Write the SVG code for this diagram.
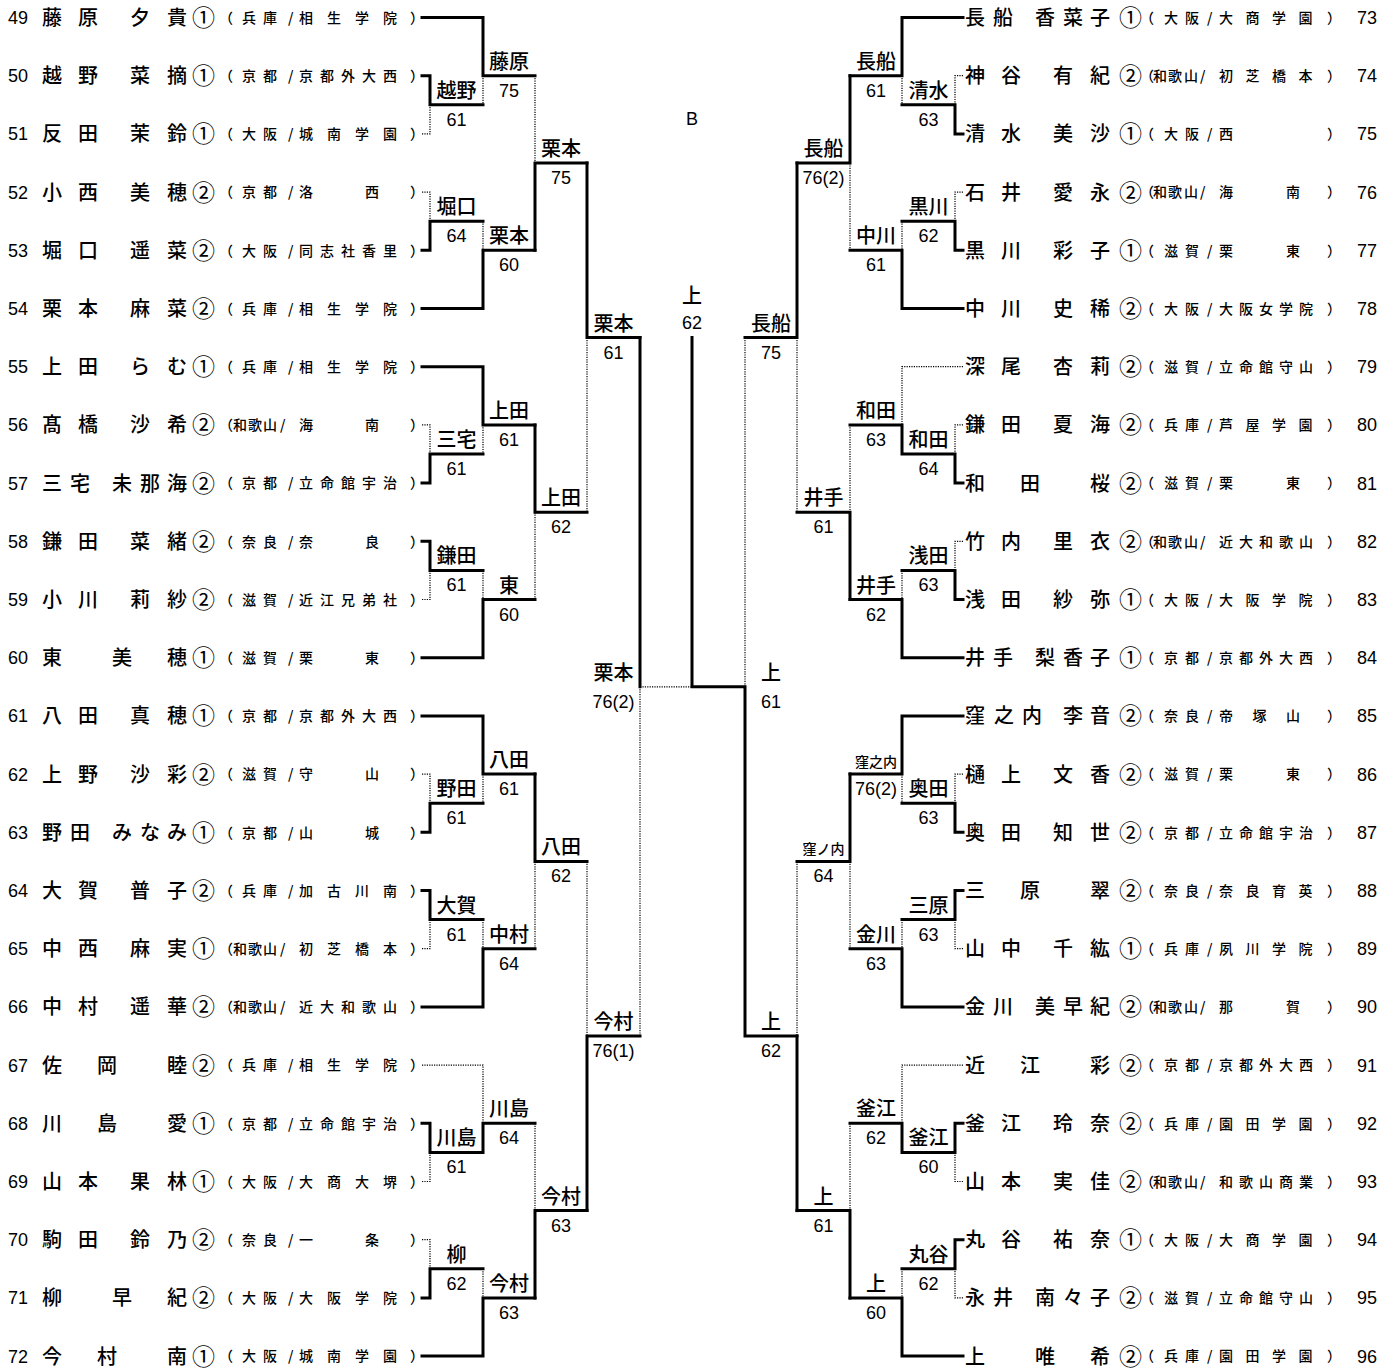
<svg xmlns="http://www.w3.org/2000/svg" width="1396" height="1370" viewBox="0 0 1396 1370">
<style>
.bg{fill:#fff}
.s{fill:none;stroke:#000;stroke-width:3;stroke-linecap:square;stroke-linejoin:miter}
.d{fill:none;stroke:#000;stroke-width:1.2;stroke-dasharray:1.2 1.2}
.no{font-family:"Liberation Sans",Arial,sans-serif;font-size:18px;fill:#000}
.nr{font-family:"Liberation Sans",Arial,sans-serif;font-size:18px;fill:#000;text-anchor:end}
.nm{font-family:"Noto Sans CJK JP","Noto Sans CJK SC",sans-serif;font-size:20px;font-weight:500;fill:#000}
.ci{font-family:"Noto Sans CJK JP","Noto Sans CJK SC",sans-serif;font-size:23px;fill:#000}
.af{font-family:"Noto Sans CJK JP","Noto Sans CJK SC",sans-serif;font-size:14px;font-weight:500;fill:#000}
.lb{font-family:"Noto Sans CJK JP","Noto Sans CJK SC",sans-serif;font-size:20px;font-weight:500;text-anchor:middle;fill:#000}
.ls{font-family:"Noto Sans CJK JP","Noto Sans CJK SC",sans-serif;font-size:14px;font-weight:500;text-anchor:middle;fill:#000}
.sc{font-family:"Liberation Sans",Arial,sans-serif;font-size:18px;text-anchor:middle;fill:#000}
</style>
<rect class="bg" x="0" y="0" width="1396" height="1370"/>

<g id="connectors">
<!-- left group 49-54 -->
<path class="s" d="M422,17.5H483V75.7H535"/>
<path class="s" d="M422,75.7H430V104.8H483"/>
<path class="s" d="M422,250.3H430V221.2H483"/>
<path class="s" d="M422,308.5H483V250.3H535"/>
<path class="s" d="M587,163H535V250.3"/>
<path class="d" d="M483,75.7V104.8"/>
<path class="d" d="M422,133.9H430V104.8"/>
<path class="d" d="M422,192.1H430V221.2"/>
<path class="d" d="M483,221.2V250.3"/>
<path class="d" d="M535,75.7V163"/>
<!-- left group 55-60 -->
<path class="s" d="M422,366.7H483V424.9H535"/>
<path class="s" d="M422,483.1H430V454H483"/>
<path class="s" d="M422,541.3H430V570.4H483"/>
<path class="s" d="M422,657.7H483V599.5H535"/>
<path class="s" d="M587,512.2H535V424.9"/>
<path class="d" d="M483,424.9V454"/>
<path class="d" d="M422,424.9H430V454"/>
<path class="d" d="M422,599.5H430V570.4"/>
<path class="d" d="M483,570.4V599.5"/>
<path class="d" d="M535,512.2V599.5"/>
<!-- left quarter top -->
<path class="s" d="M587,163V337.6H640"/>
<path class="d" d="M587,337.6V512.2"/>
<!-- left group 61-66 -->
<path class="s" d="M422,715.9H483V774.1H535"/>
<path class="s" d="M422,832.3H430V803.2H483"/>
<path class="s" d="M422,890.5H430V919.6H483"/>
<path class="s" d="M422,1006.9H483V948.7H535"/>
<path class="s" d="M587,861.4H535V774.1"/>
<path class="d" d="M483,774.1V803.2"/>
<path class="d" d="M422,774.1H430V803.2"/>
<path class="d" d="M422,948.7H430V919.6"/>
<path class="d" d="M483,919.6V948.7"/>
<path class="d" d="M535,861.4V948.7"/>
<!-- left group 67-72 -->
<path class="s" d="M422,1123.3H430V1152.4H483V1123.3H535"/>
<path class="s" d="M422,1297.9H430V1268.8H483"/>
<path class="s" d="M422,1356.1H483V1297.9H535"/>
<path class="s" d="M587,1210.6H535V1297.9"/>
<path class="d" d="M422,1065.1H483V1123.3"/>
<path class="d" d="M422,1181.5H430V1152.4"/>
<path class="d" d="M422,1239.7H430V1268.8"/>
<path class="d" d="M483,1268.8V1297.9"/>
<path class="d" d="M535,1123.3V1210.6"/>
<!-- left quarter bottom -->
<path class="s" d="M587,1210.6V1036H640"/>
<path class="d" d="M587,861.4V1036"/>
<!-- semis, final -->
<path class="s" d="M640,337.6V686.8"/>
<path class="d" d="M640,686.8V1036"/>
<path class="d" d="M640,686.8H692"/>
<path class="s" d="M692,337.6V686.8H745V1036H797"/>
<path class="d" d="M745,337.6V686.8"/>
<!-- right quarters -->
<path class="s" d="M745,337.6H797V163"/>
<path class="d" d="M797,337.6V512.2"/>
<path class="s" d="M797,1036V1210.6"/>
<path class="d" d="M797,861.4V1036"/>
<!-- right group 73-78 -->
<path class="s" d="M963,17.5H902V75.7H850"/>
<path class="s" d="M963,133.9H955V104.8H902"/>
<path class="s" d="M963,250.3H955V221.2H902"/>
<path class="s" d="M963,308.5H902V250.3H850"/>
<path class="s" d="M797,163H850V75.7"/>
<path class="d" d="M902,75.7V104.8"/>
<path class="d" d="M963,75.7H955V104.8"/>
<path class="d" d="M963,192.1H955V221.2"/>
<path class="d" d="M902,221.2V250.3"/>
<path class="d" d="M850,163V250.3"/>
<!-- right group 79-84 -->
<path class="s" d="M963,483.1H955V454H902V424.9H850"/>
<path class="s" d="M963,599.5H955V570.4H902"/>
<path class="s" d="M963,657.7H902V599.5H850"/>
<path class="s" d="M797,512.2H850V599.5"/>
<path class="d" d="M963,366.7H902V424.9"/>
<path class="d" d="M963,424.9H955V454"/>
<path class="d" d="M963,541.3H955V570.4"/>
<path class="d" d="M902,570.4V599.5"/>
<path class="d" d="M850,424.9V512.2"/>
<!-- right group 85-90 -->
<path class="s" d="M963,715.9H902V774.1H850"/>
<path class="s" d="M963,832.3H955V803.2H902"/>
<path class="s" d="M963,890.5H955V919.6H902"/>
<path class="s" d="M963,1006.9H902V948.7H850"/>
<path class="s" d="M797,861.4H850V774.1"/>
<path class="d" d="M902,774.1V803.2"/>
<path class="d" d="M963,774.1H955V803.2"/>
<path class="d" d="M963,948.7H955V919.6"/>
<path class="d" d="M902,919.6V948.7"/>
<path class="d" d="M850,861.4V948.7"/>
<!-- right group 91-96 -->
<path class="s" d="M963,1123.3H955V1152.4H902V1123.3H850"/>
<path class="s" d="M963,1239.7H955V1268.8H902"/>
<path class="s" d="M963,1356.1H902V1297.9H850"/>
<path class="s" d="M797,1210.6H850V1297.9"/>
<path class="d" d="M963,1065.1H902V1123.3"/>
<path class="d" d="M963,1181.5H955V1152.4"/>
<path class="d" d="M963,1297.9H955V1268.8"/>
<path class="d" d="M902,1268.8V1297.9"/>
<path class="d" d="M850,1123.3V1210.6"/>
</g>

<g id="title"><text class="sc" x="692" y="125">B</text></g>

<!-- left players -->
<g id="p49" transform="translate(0,17.5)"><text class="no" x="8" y="6.5">49</text><text class="nm" x="42 78 130 167" y="7.5">藤原夕貴</text><text class="ci" x="192" y="8.5">①</text><text class="af" x="219 242 263 288 299 327 355 383 410" y="5.3">（兵庫/相生学院）</text></g>
<g id="p50" transform="translate(0,75.7)"><text class="no" x="8" y="6.5">50</text><text class="nm" x="42 78 130 167" y="7.5">越野菜摘</text><text class="ci" x="192" y="8.5">①</text><text class="af" x="219 242 263 288 299 320 341 362 383 410" y="5.3">（京都/京都外大西）</text></g>
<g id="p51" transform="translate(0,133.9)"><text class="no" x="8" y="6.5">51</text><text class="nm" x="42 78 130 167" y="7.5">反田茉鈴</text><text class="ci" x="192" y="8.5">①</text><text class="af" x="219 242 263 288 299 327 355 383 410" y="5.3">（大阪/城南学園）</text></g>
<g id="p52" transform="translate(0,192.1)"><text class="no" x="8" y="6.5">52</text><text class="nm" x="42 78 130 167" y="7.5">小西美穂</text><text class="ci" x="192" y="8.5">②</text><text class="af" x="219 242 263 288 299 365 410" y="5.3">（京都/洛西）</text></g>
<g id="p53" transform="translate(0,250.3)"><text class="no" x="8" y="6.5">53</text><text class="nm" x="42 78 130 167" y="7.5">堀口遥菜</text><text class="ci" x="192" y="8.5">②</text><text class="af" x="219 242 263 288 299 320 341 362 383 410" y="5.3">（大阪/同志社香里）</text></g>
<g id="p54" transform="translate(0,308.5)"><text class="no" x="8" y="6.5">54</text><text class="nm" x="42 78 130 167" y="7.5">栗本麻菜</text><text class="ci" x="192" y="8.5">②</text><text class="af" x="219 242 263 288 299 327 355 383 410" y="5.3">（兵庫/相生学院）</text></g>
<g id="p55" transform="translate(0,366.7)"><text class="no" x="8" y="6.5">55</text><text class="nm" x="42 78 130 167" y="7.5">上田らむ</text><text class="ci" x="192" y="8.5">①</text><text class="af" x="219 242 263 288 299 327 355 383 410" y="5.3">（兵庫/相生学院）</text></g>
<g id="p56" transform="translate(0,424.9)"><text class="no" x="8" y="6.5">56</text><text class="nm" x="42 78 130 167" y="7.5">髙橋沙希</text><text class="ci" x="192" y="8.5">②</text><text class="af" x="219 233 248 263 280 299 365 410" y="5.3">（和歌山/海南）</text></g>
<g id="p57" transform="translate(0,483.1)"><text class="no" x="8" y="6.5">57</text><text class="nm" x="42 70 112 140 167" y="7.5">三宅未那海</text><text class="ci" x="192" y="8.5">②</text><text class="af" x="219 242 263 288 299 320 341 362 383 410" y="5.3">（京都/立命館宇治）</text></g>
<g id="p58" transform="translate(0,541.3)"><text class="no" x="8" y="6.5">58</text><text class="nm" x="42 78 130 167" y="7.5">鎌田菜緒</text><text class="ci" x="192" y="8.5">②</text><text class="af" x="219 242 263 288 299 365 410" y="5.3">（奈良/奈良）</text></g>
<g id="p59" transform="translate(0,599.5)"><text class="no" x="8" y="6.5">59</text><text class="nm" x="42 78 130 167" y="7.5">小川莉紗</text><text class="ci" x="192" y="8.5">②</text><text class="af" x="219 242 263 288 299 320 341 362 383 410" y="5.3">（滋賀/近江兄弟社）</text></g>
<g id="p60" transform="translate(0,657.7)"><text class="no" x="8" y="6.5">60</text><text class="nm" x="42 112 167" y="7.5">東美穂</text><text class="ci" x="192" y="8.5">①</text><text class="af" x="219 242 263 288 299 365 410" y="5.3">（滋賀/栗東）</text></g>
<g id="p61" transform="translate(0,715.9)"><text class="no" x="8" y="6.5">61</text><text class="nm" x="42 78 130 167" y="7.5">八田真穂</text><text class="ci" x="192" y="8.5">①</text><text class="af" x="219 242 263 288 299 320 341 362 383 410" y="5.3">（京都/京都外大西）</text></g>
<g id="p62" transform="translate(0,774.1)"><text class="no" x="8" y="6.5">62</text><text class="nm" x="42 78 130 167" y="7.5">上野沙彩</text><text class="ci" x="192" y="8.5">②</text><text class="af" x="219 242 263 288 299 365 410" y="5.3">（滋賀/守山）</text></g>
<g id="p63" transform="translate(0,832.3)"><text class="no" x="8" y="6.5">63</text><text class="nm" x="42 70 112 140 167" y="7.5">野田みなみ</text><text class="ci" x="192" y="8.5">①</text><text class="af" x="219 242 263 288 299 365 410" y="5.3">（京都/山城）</text></g>
<g id="p64" transform="translate(0,890.5)"><text class="no" x="8" y="6.5">64</text><text class="nm" x="42 78 130 167" y="7.5">大賀普子</text><text class="ci" x="192" y="8.5">②</text><text class="af" x="219 242 263 288 299 327 355 383 410" y="5.3">（兵庫/加古川南）</text></g>
<g id="p65" transform="translate(0,948.7)"><text class="no" x="8" y="6.5">65</text><text class="nm" x="42 78 130 167" y="7.5">中西麻実</text><text class="ci" x="192" y="8.5">①</text><text class="af" x="219 233 248 263 280 299 327 355 383 410" y="5.3">（和歌山/初芝橋本）</text></g>
<g id="p66" transform="translate(0,1006.9)"><text class="no" x="8" y="6.5">66</text><text class="nm" x="42 78 130 167" y="7.5">中村遥華</text><text class="ci" x="192" y="8.5">②</text><text class="af" x="219 233 248 263 280 299 320 341 362 383 410" y="5.3">（和歌山/近大和歌山）</text></g>
<g id="p67" transform="translate(0,1065.1)"><text class="no" x="8" y="6.5">67</text><text class="nm" x="42 97 167" y="7.5">佐岡睦</text><text class="ci" x="192" y="8.5">②</text><text class="af" x="219 242 263 288 299 327 355 383 410" y="5.3">（兵庫/相生学院）</text></g>
<g id="p68" transform="translate(0,1123.3)"><text class="no" x="8" y="6.5">68</text><text class="nm" x="42 97 167" y="7.5">川島愛</text><text class="ci" x="192" y="8.5">①</text><text class="af" x="219 242 263 288 299 320 341 362 383 410" y="5.3">（京都/立命館宇治）</text></g>
<g id="p69" transform="translate(0,1181.5)"><text class="no" x="8" y="6.5">69</text><text class="nm" x="42 78 130 167" y="7.5">山本果林</text><text class="ci" x="192" y="8.5">①</text><text class="af" x="219 242 263 288 299 327 355 383 410" y="5.3">（大阪/大商大堺）</text></g>
<g id="p70" transform="translate(0,1239.7)"><text class="no" x="8" y="6.5">70</text><text class="nm" x="42 78 130 167" y="7.5">駒田鈴乃</text><text class="ci" x="192" y="8.5">②</text><text class="af" x="219 242 263 288 299 365 410" y="5.3">（奈良/一条）</text></g>
<g id="p71" transform="translate(0,1297.9)"><text class="no" x="8" y="6.5">71</text><text class="nm" x="42 112 167" y="7.5">柳早紀</text><text class="ci" x="192" y="8.5">②</text><text class="af" x="219 242 263 288 299 327 355 383 410" y="5.3">（大阪/大阪学院）</text></g>
<g id="p72" transform="translate(0,1356.1)"><text class="no" x="8" y="6.5">72</text><text class="nm" x="42 97 167" y="7.5">今村南</text><text class="ci" x="192" y="8.5">①</text><text class="af" x="219 242 263 288 299 327 355 383 410" y="5.3">（大阪/城南学園）</text></g>

<!-- right players -->
<g id="p73" transform="translate(0,17.5)"><text class="nm" x="965 993 1035 1063 1090" y="7.5">長船香菜子</text><text class="ci" x="1119" y="8.5">①</text><text class="af" x="1140 1164 1185 1207 1219 1245.5 1272 1298.5 1327" y="5.3">（大阪/大商学園）</text><text class="nr" x="1377" y="6.5">73</text></g>
<g id="p74" transform="translate(0,75.7)"><text class="nm" x="965 1001 1053 1090" y="7.5">神谷有紀</text><text class="ci" x="1119" y="8.5">②</text><text class="af" x="1140 1153 1168 1184 1200 1219 1245.5 1272 1298.5 1327" y="5.3">（和歌山/初芝橋本）</text><text class="nr" x="1377" y="6.5">74</text></g>
<g id="p75" transform="translate(0,133.9)"><text class="nm" x="965 1001 1053 1090" y="7.5">清水美沙</text><text class="ci" x="1119" y="8.5">①</text><text class="af" x="1140 1164 1185 1207 1219 1327" y="5.3">（大阪/西）</text><text class="nr" x="1377" y="6.5">75</text></g>
<g id="p76" transform="translate(0,192.1)"><text class="nm" x="965 1001 1053 1090" y="7.5">石井愛永</text><text class="ci" x="1119" y="8.5">②</text><text class="af" x="1140 1153 1168 1184 1200 1219 1286 1327" y="5.3">（和歌山/海南）</text><text class="nr" x="1377" y="6.5">76</text></g>
<g id="p77" transform="translate(0,250.3)"><text class="nm" x="965 1001 1053 1090" y="7.5">黒川彩子</text><text class="ci" x="1119" y="8.5">①</text><text class="af" x="1140 1164 1185 1207 1219 1286 1327" y="5.3">（滋賀/栗東）</text><text class="nr" x="1377" y="6.5">77</text></g>
<g id="p78" transform="translate(0,308.5)"><text class="nm" x="965 1001 1053 1090" y="7.5">中川史稀</text><text class="ci" x="1119" y="8.5">②</text><text class="af" x="1140 1164 1185 1207 1219 1239 1259 1279 1299 1327" y="5.3">（大阪/大阪女学院）</text><text class="nr" x="1377" y="6.5">78</text></g>
<g id="p79" transform="translate(0,366.7)"><text class="nm" x="965 1001 1053 1090" y="7.5">深尾杏莉</text><text class="ci" x="1119" y="8.5">②</text><text class="af" x="1140 1164 1185 1207 1219 1239 1259 1279 1299 1327" y="5.3">（滋賀/立命館守山）</text><text class="nr" x="1377" y="6.5">79</text></g>
<g id="p80" transform="translate(0,424.9)"><text class="nm" x="965 1001 1053 1090" y="7.5">鎌田夏海</text><text class="ci" x="1119" y="8.5">②</text><text class="af" x="1140 1164 1185 1207 1219 1245.5 1272 1298.5 1327" y="5.3">（兵庫/芦屋学園）</text><text class="nr" x="1377" y="6.5">80</text></g>
<g id="p81" transform="translate(0,483.1)"><text class="nm" x="965 1020 1090" y="7.5">和田桜</text><text class="ci" x="1119" y="8.5">②</text><text class="af" x="1140 1164 1185 1207 1219 1286 1327" y="5.3">（滋賀/栗東）</text><text class="nr" x="1377" y="6.5">81</text></g>
<g id="p82" transform="translate(0,541.3)"><text class="nm" x="965 1001 1053 1090" y="7.5">竹内里衣</text><text class="ci" x="1119" y="8.5">②</text><text class="af" x="1140 1153 1168 1184 1200 1219 1239 1259 1279 1299 1327" y="5.3">（和歌山/近大和歌山）</text><text class="nr" x="1377" y="6.5">82</text></g>
<g id="p83" transform="translate(0,599.5)"><text class="nm" x="965 1001 1053 1090" y="7.5">浅田紗弥</text><text class="ci" x="1119" y="8.5">①</text><text class="af" x="1140 1164 1185 1207 1219 1245.5 1272 1298.5 1327" y="5.3">（大阪/大阪学院）</text><text class="nr" x="1377" y="6.5">83</text></g>
<g id="p84" transform="translate(0,657.7)"><text class="nm" x="965 993 1035 1063 1090" y="7.5">井手梨香子</text><text class="ci" x="1119" y="8.5">①</text><text class="af" x="1140 1164 1185 1207 1219 1239 1259 1279 1299 1327" y="5.3">（京都/京都外大西）</text><text class="nr" x="1377" y="6.5">84</text></g>
<g id="p85" transform="translate(0,715.9)"><text class="nm" x="965 994 1022 1063 1090" y="7.5">窪之内李音</text><text class="ci" x="1119" y="8.5">②</text><text class="af" x="1140 1164 1185 1207 1219 1252.5 1286 1327" y="5.3">（奈良/帝塚山）</text><text class="nr" x="1377" y="6.5">85</text></g>
<g id="p86" transform="translate(0,774.1)"><text class="nm" x="965 1001 1053 1090" y="7.5">樋上文香</text><text class="ci" x="1119" y="8.5">②</text><text class="af" x="1140 1164 1185 1207 1219 1286 1327" y="5.3">（滋賀/栗東）</text><text class="nr" x="1377" y="6.5">86</text></g>
<g id="p87" transform="translate(0,832.3)"><text class="nm" x="965 1001 1053 1090" y="7.5">奥田知世</text><text class="ci" x="1119" y="8.5">②</text><text class="af" x="1140 1164 1185 1207 1219 1239 1259 1279 1299 1327" y="5.3">（京都/立命館宇治）</text><text class="nr" x="1377" y="6.5">87</text></g>
<g id="p88" transform="translate(0,890.5)"><text class="nm" x="965 1020 1090" y="7.5">三原翠</text><text class="ci" x="1119" y="8.5">②</text><text class="af" x="1140 1164 1185 1207 1219 1245.5 1272 1298.5 1327" y="5.3">（奈良/奈良育英）</text><text class="nr" x="1377" y="6.5">88</text></g>
<g id="p89" transform="translate(0,948.7)"><text class="nm" x="965 1001 1053 1090" y="7.5">山中千紘</text><text class="ci" x="1119" y="8.5">①</text><text class="af" x="1140 1164 1185 1207 1219 1245.5 1272 1298.5 1327" y="5.3">（兵庫/夙川学院）</text><text class="nr" x="1377" y="6.5">89</text></g>
<g id="p90" transform="translate(0,1006.9)"><text class="nm" x="965 993 1035 1063 1090" y="7.5">金川美早紀</text><text class="ci" x="1119" y="8.5">②</text><text class="af" x="1140 1153 1168 1184 1200 1219 1286 1327" y="5.3">（和歌山/那賀）</text><text class="nr" x="1377" y="6.5">90</text></g>
<g id="p91" transform="translate(0,1065.1)"><text class="nm" x="965 1020 1090" y="7.5">近江彩</text><text class="ci" x="1119" y="8.5">②</text><text class="af" x="1140 1164 1185 1207 1219 1239 1259 1279 1299 1327" y="5.3">（京都/京都外大西）</text><text class="nr" x="1377" y="6.5">91</text></g>
<g id="p92" transform="translate(0,1123.3)"><text class="nm" x="965 1001 1053 1090" y="7.5">釜江玲奈</text><text class="ci" x="1119" y="8.5">②</text><text class="af" x="1140 1164 1185 1207 1219 1245.5 1272 1298.5 1327" y="5.3">（兵庫/園田学園）</text><text class="nr" x="1377" y="6.5">92</text></g>
<g id="p93" transform="translate(0,1181.5)"><text class="nm" x="965 1001 1053 1090" y="7.5">山本実佳</text><text class="ci" x="1119" y="8.5">②</text><text class="af" x="1140 1153 1168 1184 1200 1219 1239 1259 1279 1299 1327" y="5.3">（和歌山/和歌山商業）</text><text class="nr" x="1377" y="6.5">93</text></g>
<g id="p94" transform="translate(0,1239.7)"><text class="nm" x="965 1001 1053 1090" y="7.5">丸谷祐奈</text><text class="ci" x="1119" y="8.5">①</text><text class="af" x="1140 1164 1185 1207 1219 1245.5 1272 1298.5 1327" y="5.3">（大阪/大商学園）</text><text class="nr" x="1377" y="6.5">94</text></g>
<g id="p95" transform="translate(0,1297.9)"><text class="nm" x="965 993 1035 1063 1090" y="7.5">永井南々子</text><text class="ci" x="1119" y="8.5">②</text><text class="af" x="1140 1164 1185 1207 1219 1239 1259 1279 1299 1327" y="5.3">（滋賀/立命館守山）</text><text class="nr" x="1377" y="6.5">95</text></g>
<g id="p96" transform="translate(0,1356.1)"><text class="nm" x="965 1035 1090" y="7.5">上唯希</text><text class="ci" x="1119" y="8.5">②</text><text class="af" x="1140 1164 1185 1207 1219 1245.5 1272 1298.5 1327" y="5.3">（兵庫/園田学園）</text><text class="nr" x="1377" y="6.5">96</text></g>

<!-- match results -->
<g id="m01" transform="translate(456.5,104.8)"><text class="lb" y="-7">越野</text><text class="sc" y="21">61</text></g>
<g id="m02" transform="translate(509,75.7)"><text class="lb" y="-7">藤原</text><text class="sc" y="21">75</text></g>
<g id="m03" transform="translate(456.5,221.2)"><text class="lb" y="-7">堀口</text><text class="sc" y="21">64</text></g>
<g id="m04" transform="translate(509,250.3)"><text class="lb" y="-7">栗本</text><text class="sc" y="21">60</text></g>
<g id="m05" transform="translate(561,163)"><text class="lb" y="-7">栗本</text><text class="sc" y="21">75</text></g>
<g id="m06" transform="translate(456.5,454)"><text class="lb" y="-7">三宅</text><text class="sc" y="21">61</text></g>
<g id="m07" transform="translate(509,424.9)"><text class="lb" y="-7">上田</text><text class="sc" y="21">61</text></g>
<g id="m08" transform="translate(456.5,570.4)"><text class="lb" y="-7">鎌田</text><text class="sc" y="21">61</text></g>
<g id="m09" transform="translate(509,599.5)"><text class="lb" y="-7">東</text><text class="sc" y="21">60</text></g>
<g id="m10" transform="translate(561,512.2)"><text class="lb" y="-7">上田</text><text class="sc" y="21">62</text></g>
<g id="m11" transform="translate(613.5,337.6)"><text class="lb" y="-7">栗本</text><text class="sc" y="21">61</text></g>
<g id="m12" transform="translate(456.5,803.2)"><text class="lb" y="-7">野田</text><text class="sc" y="21">61</text></g>
<g id="m13" transform="translate(509,774.1)"><text class="lb" y="-7">八田</text><text class="sc" y="21">61</text></g>
<g id="m14" transform="translate(456.5,919.6)"><text class="lb" y="-7">大賀</text><text class="sc" y="21">61</text></g>
<g id="m15" transform="translate(509,948.7)"><text class="lb" y="-7">中村</text><text class="sc" y="21">64</text></g>
<g id="m16" transform="translate(561,861.4)"><text class="lb" y="-7">八田</text><text class="sc" y="21">62</text></g>
<g id="m17" transform="translate(456.5,1152.4)"><text class="lb" y="-7">川島</text><text class="sc" y="21">61</text></g>
<g id="m18" transform="translate(509,1123.3)"><text class="lb" y="-7">川島</text><text class="sc" y="21">64</text></g>
<g id="m19" transform="translate(456.5,1268.8)"><text class="lb" y="-7">柳</text><text class="sc" y="21">62</text></g>
<g id="m20" transform="translate(509,1297.9)"><text class="lb" y="-7">今村</text><text class="sc" y="21">63</text></g>
<g id="m21" transform="translate(561,1210.6)"><text class="lb" y="-7">今村</text><text class="sc" y="21">63</text></g>
<g id="m22" transform="translate(613.5,1036)"><text class="lb" y="-7">今村</text><text class="sc" y="21">76(1)</text></g>
<g id="m23" transform="translate(613.5,686.8)"><text class="lb" y="-7">栗本</text><text class="sc" y="21">76(2)</text></g>
<g id="m24" transform="translate(692,337.6)"><text class="lb" y="-35">上</text><text class="sc" y="-9">62</text></g>
<g id="m25" transform="translate(771,686.8)"><text class="lb" y="-7">上</text><text class="sc" y="21">61</text></g>
<g id="m26" transform="translate(771,337.6)"><text class="lb" y="-7">長船</text><text class="sc" y="21">75</text></g>
<g id="m27" transform="translate(771,1036)"><text class="lb" y="-7">上</text><text class="sc" y="21">62</text></g>
<g id="m28" transform="translate(928.5,104.8)"><text class="lb" y="-7">清水</text><text class="sc" y="21">63</text></g>
<g id="m29" transform="translate(876,75.7)"><text class="lb" y="-7">長船</text><text class="sc" y="21">61</text></g>
<g id="m30" transform="translate(928.5,221.2)"><text class="lb" y="-7">黒川</text><text class="sc" y="21">62</text></g>
<g id="m31" transform="translate(876,250.3)"><text class="lb" y="-7">中川</text><text class="sc" y="21">61</text></g>
<g id="m32" transform="translate(823.5,163)"><text class="lb" y="-7">長船</text><text class="sc" y="21">76(2)</text></g>
<g id="m33" transform="translate(928.5,454)"><text class="lb" y="-7">和田</text><text class="sc" y="21">64</text></g>
<g id="m34" transform="translate(876,424.9)"><text class="lb" y="-7">和田</text><text class="sc" y="21">63</text></g>
<g id="m35" transform="translate(928.5,570.4)"><text class="lb" y="-7">浅田</text><text class="sc" y="21">63</text></g>
<g id="m36" transform="translate(876,599.5)"><text class="lb" y="-7">井手</text><text class="sc" y="21">62</text></g>
<g id="m37" transform="translate(823.5,512.2)"><text class="lb" y="-7">井手</text><text class="sc" y="21">61</text></g>
<g id="m38" transform="translate(928.5,803.2)"><text class="lb" y="-7">奥田</text><text class="sc" y="21">63</text></g>
<g id="m39" transform="translate(876,774.1)"><text class="ls" y="-7">窪之内</text><text class="sc" y="21">76(2)</text></g>
<g id="m40" transform="translate(928.5,919.6)"><text class="lb" y="-7">三原</text><text class="sc" y="21">63</text></g>
<g id="m41" transform="translate(876,948.7)"><text class="lb" y="-7">金川</text><text class="sc" y="21">63</text></g>
<g id="m42" transform="translate(823.5,861.4)"><text class="ls" y="-7">窪ノ内</text><text class="sc" y="21">64</text></g>
<g id="m43" transform="translate(928.5,1152.4)"><text class="lb" y="-7">釜江</text><text class="sc" y="21">60</text></g>
<g id="m44" transform="translate(876,1123.3)"><text class="lb" y="-7">釜江</text><text class="sc" y="21">62</text></g>
<g id="m45" transform="translate(928.5,1268.8)"><text class="lb" y="-7">丸谷</text><text class="sc" y="21">62</text></g>
<g id="m46" transform="translate(876,1297.9)"><text class="lb" y="-7">上</text><text class="sc" y="21">60</text></g>
<g id="m47" transform="translate(823.5,1210.6)"><text class="lb" y="-7">上</text><text class="sc" y="21">61</text></g>
</svg>
